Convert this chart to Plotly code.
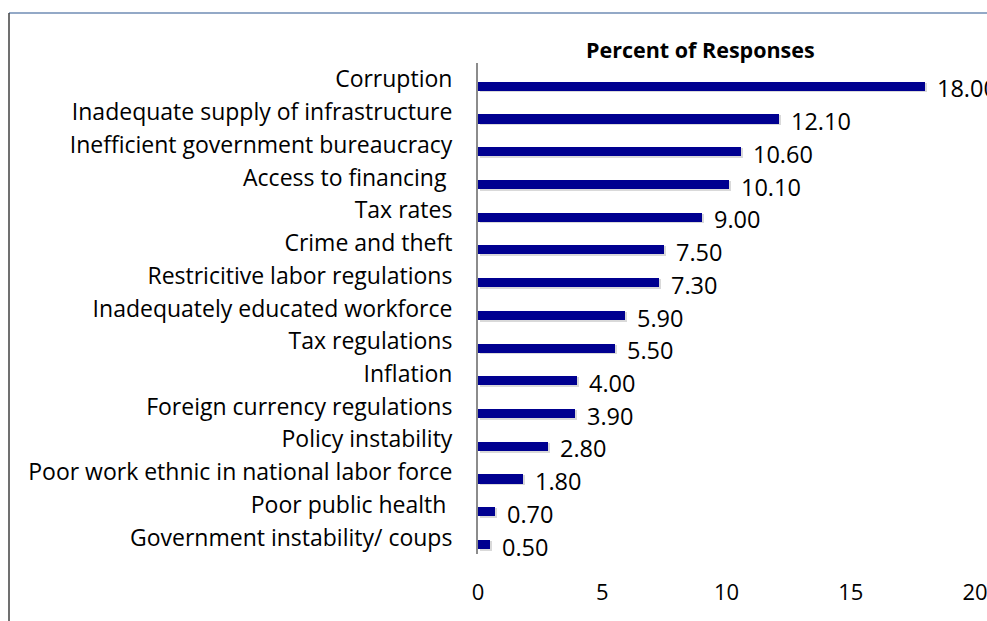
import plotly.graph_objects as go

# Obstacles to doing business, share of responses (%)
categories = [
    "Corruption",
    "Inadequate supply of infrastructure",
    "Inefficient government bureaucracy",
    "Access to financing ",
    "Tax rates",
    "Crime and theft",
    "Restricitive labor regulations",
    "Inadequately educated workforce",
    "Tax regulations",
    "Inflation",
    "Foreign currency regulations",
    "Policy instability",
    "Poor work ethnic in national labor force",
    "Poor public health ",
    "Government instability/ coups",
]
values = [18.0, 12.1, 10.6, 10.1, 9.0, 7.5, 7.3, 5.9, 5.5, 4.0, 3.9, 2.8, 1.8, 0.7, 0.5]
x_ticks = [0, 5, 10, 15, 20]

FONT = "Open Sans"
BAR_COLOR = "#000090"
W, H = 987, 621
L, R, T, B = 478, 12, 63, 67
PW, PH = W - L - R, H - T - B


def px_to_paper_x(px):
    return (px - L) / PW


def px_to_paper_y(py):
    return (H - B - py) / PH


fig = go.Figure()

# soft drop shadow under each bar
fig.add_trace(go.Bar(
    x=values, y=categories, orientation="h",
    base=0.08, width=0.30, offset=0.10,
    marker=dict(color="rgba(0,0,0,0.15)", line=dict(width=0)),
    hoverinfo="skip", showlegend=False,
))
fig.add_trace(go.Bar(
    x=values, y=categories, orientation="h",
    width=0.28, offset=0.07,
    marker=dict(color=BAR_COLOR, line=dict(width=0)),
    showlegend=False,
))

# value labels to the right of each bar
for c, v in zip(categories, values):
    fig.add_annotation(
        x=v, y=c, text=f"{v:.2f}", showarrow=False,
        xanchor="left", yanchor="middle", xshift=10, yshift=-9,
        font=dict(family=FONT, size=23.5, color="#000000"),
    )

fig.add_annotation(
    x=px_to_paper_x(700), y=px_to_paper_y(49), xref="paper", yref="paper",
    text="<b>Percent of Responses</b>", showarrow=False,
    xanchor="center", yanchor="middle",
    font=dict(family=FONT, size=21.5, color="#000000"),
)

# chart frame
fig.add_shape(type="line", xref="paper", yref="paper",
              x0=px_to_paper_x(9), x1=px_to_paper_x(W + 5),
              y0=px_to_paper_y(13), y1=px_to_paper_y(13),
              line=dict(color="#6f8db5", width=1.5))
fig.add_shape(type="line", xref="paper", yref="paper",
              x0=px_to_paper_x(9), x1=px_to_paper_x(9),
              y0=px_to_paper_y(13), y1=px_to_paper_y(H + 5),
              line=dict(color="#404040", width=1.5))

fig.update_layout(
    width=W, height=H,
    margin=dict(l=L, r=R, t=T, b=B, autoexpand=False),
    paper_bgcolor="white", plot_bgcolor="white",
    barmode="overlay", bargap=0,
    font=dict(family=FONT, size=22, color="#000000"),
)
fig.update_xaxes(
    range=[0, 20], tickvals=x_ticks, showgrid=False, zeroline=False,
    showline=False, ticks="", tickfont=dict(family=FONT, size=22),
    ticklabelstandoff=23, ticklabeloverflow="allow", automargin=False,
)
fig.update_yaxes(
    type="category", categoryorder="array", categoryarray=categories,
    range=[len(categories) - 0.5, -0.5], showgrid=False, zeroline=False,
    showline=True, linecolor="#8c8c8c", linewidth=2, ticks="",
    tickfont=dict(family=FONT, size=23), ticklabelstandoff=19,
    automargin=False,
)

fig.write_html("out.html")
